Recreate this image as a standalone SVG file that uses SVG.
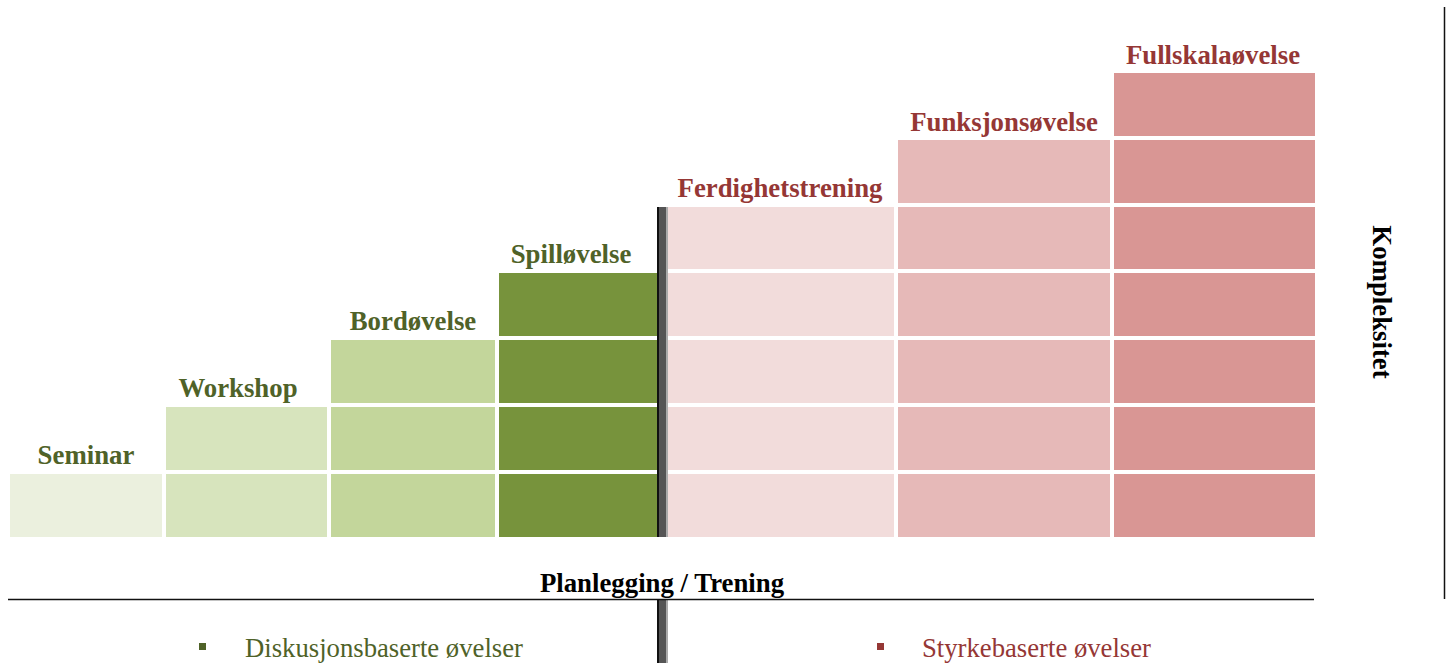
<svg xmlns="http://www.w3.org/2000/svg" width="1451" height="664" viewBox="0 0 1451 664">
<style>
.lbl{font-family:"Liberation Serif","Times New Roman",serif;font-size:26.8px;font-weight:bold;text-anchor:middle}
.g{fill:#4F6228}.r{fill:#953735}
.leg{font-family:"Liberation Serif","Times New Roman",serif;font-size:26.7px}
.c1{fill:#EBF0DE}.c2{fill:#D7E4BD}.c3{fill:#C3D69B}.c4{fill:#77933C}
.c5{fill:#F2DCDB}.c6{fill:#E6B9B8}.c7{fill:#D99694}
</style>
<rect width="1451" height="664" fill="#fff"/>
<g id="seminar">
<rect class="c1" x="10" y="474" width="152" height="63"/>
<text class="lbl g" x="86" y="464">Seminar</text>
</g>
<g id="workshop">
<rect class="c2" x="166" y="407" width="161" height="63"/>
<rect class="c2" x="166" y="474" width="161" height="63"/>
<text class="lbl g" x="238" y="397">Workshop</text>
</g>
<g id="bordovelse">
<rect class="c3" x="331" y="340" width="164" height="63"/>
<rect class="c3" x="331" y="407" width="164" height="63"/>
<rect class="c3" x="331" y="474" width="164" height="63"/>
<text class="lbl g" x="413" y="330">Bordøvelse</text>
</g>
<g id="spillovelse">
<rect class="c4" x="499" y="273" width="158" height="63"/>
<rect class="c4" x="499" y="340" width="158" height="63"/>
<rect class="c4" x="499" y="407" width="158" height="63"/>
<rect class="c4" x="499" y="474" width="158" height="63"/>
<text class="lbl g" x="571" y="263">Spilløvelse</text>
</g>
<g id="ferdighetstrening">
<rect class="c5" x="668" y="207" width="226" height="62"/>
<rect class="c5" x="668" y="273" width="226" height="63"/>
<rect class="c5" x="668" y="340" width="226" height="63"/>
<rect class="c5" x="668" y="407" width="226" height="63"/>
<rect class="c5" x="668" y="474" width="226" height="63"/>
<text class="lbl r" x="780" y="197">Ferdighetstrening</text>
</g>
<g id="funksjonsovelse">
<rect class="c6" x="898" y="140" width="212" height="63"/>
<rect class="c6" x="898" y="207" width="212" height="62"/>
<rect class="c6" x="898" y="273" width="212" height="63"/>
<rect class="c6" x="898" y="340" width="212" height="63"/>
<rect class="c6" x="898" y="407" width="212" height="63"/>
<rect class="c6" x="898" y="474" width="212" height="63"/>
<text class="lbl r" x="1004" y="131">Funksjonsøvelse</text>
</g>
<g id="fullskalaovelse">
<rect class="c7" x="1114" y="73" width="201" height="63"/>
<rect class="c7" x="1114" y="140" width="201" height="63"/>
<rect class="c7" x="1114" y="207" width="201" height="62"/>
<rect class="c7" x="1114" y="273" width="201" height="63"/>
<rect class="c7" x="1114" y="340" width="201" height="63"/>
<rect class="c7" x="1114" y="407" width="201" height="63"/>
<rect class="c7" x="1114" y="474" width="201" height="63"/>
<text class="lbl r" x="1213" y="64">Fullskalaøvelse</text>
</g>
<g id="divider">
<rect x="657" y="207" width="2" height="330" fill="#111"/>
<rect x="659" y="207" width="7" height="330" fill="#555"/>
<rect x="666" y="207" width="2" height="330" fill="#aaa"/>
<rect x="657" y="600" width="2" height="63" fill="#111"/>
<rect x="659" y="600" width="7" height="63" fill="#555"/>
<rect x="666" y="600" width="2" height="63" fill="#aaa"/>
</g>
<g id="axes">
<line x1="8" y1="599.5" x2="1314" y2="599.5" stroke="#111" stroke-width="1.5"/>
<line x1="1444.5" y1="7" x2="1444.5" y2="599" stroke="#111" stroke-width="1.5"/>
<text class="lbl" x="662" y="592" fill="#000">Planlegging / Trening</text>
<text class="lbl" x="0" y="0" fill="#000" transform="translate(1373,302) rotate(90)">Kompleksitet</text>
</g>
<g id="legend">
<rect x="199" y="643" width="7" height="7" fill="#4F6228"/>
<text class="leg g" x="245" y="657">Diskusjonsbaserte øvelser</text>
<rect x="877" y="643" width="7" height="7" fill="#953735"/>
<text class="leg r" x="922" y="657">Styrkebaserte øvelser</text>
</g>
</svg>
